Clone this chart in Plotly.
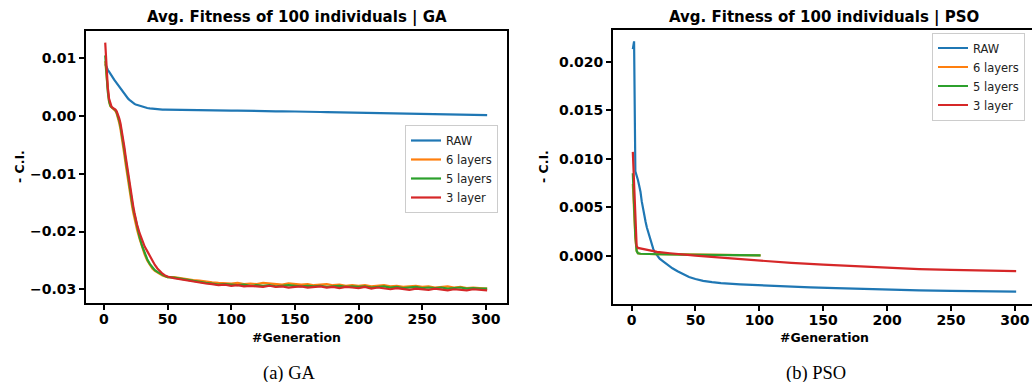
import plotly.graph_objects as go

# ---------------- data: GA panel ----------------
x_ga = list(range(1, 27)) + list(range(28, 51, 2)) + list(range(55, 301, 5)) + [301]

ga_raw = [0.0090, 0.0084, 0.0080, 0.0077, 0.0073, 0.0070, 0.0066, 0.0063, 0.0060, 0.0057,
          0.0053, 0.0050, 0.0046, 0.0043, 0.0040, 0.0037, 0.0034, 0.0032, 0.0030, 0.0028,
          0.0026, 0.0024, 0.00225, 0.0021, 0.00198, 0.0019,
          0.00172, 0.00158, 0.00147, 0.00138, 0.00131, 0.00125, 0.0012, 0.00116, 0.00113, 0.00111, 0.0011, 0.00109,
          0.00108, 0.00104, 0.00106, 0.00100, 0.00102, 0.00098, 0.00100, 0.00095, 0.00097, 0.00093,
          0.00094, 0.00090, 0.00088, 0.00090, 0.00085, 0.00084, 0.00080, 0.00082, 0.00078, 0.00076,
          0.00077, 0.00072, 0.00073, 0.00069, 0.00068, 0.00066, 0.00064, 0.00062, 0.00060, 0.00058,
          0.00059, 0.00055, 0.00053, 0.00050, 0.00048, 0.00046, 0.00044, 0.00041, 0.00040, 0.00036,
          0.00035, 0.00032, 0.00030, 0.00028, 0.00026, 0.00024, 0.00021, 0.00020, 0.00018, 0.00017,
          0.00017]

ga_6 = [0.0095, 0.0066, 0.0041, 0.0025, 0.0017, 0.0014, 0.0013, 0.0011, 0.0009, 0.0004,
        -0.0003, -0.0012, -0.0023, -0.0036, -0.0051, -0.0067, -0.0083, -0.0099, -0.0114, -0.0129,
        -0.0142, -0.0155, -0.0167, -0.0178, -0.0188, -0.0197,
        -0.0213, -0.0228, -0.0240, -0.0250, -0.0258, -0.0264, -0.0268, -0.0271, -0.0274, -0.0276, -0.0278, -0.0279,
        -0.0279, -0.0281, -0.0283, -0.0284, -0.0285, -0.0287, -0.0288, -0.0289, -0.0290, -0.0290,
        -0.0289, -0.0291, -0.0290, -0.0291, -0.0289, -0.0290, -0.0291, -0.0292, -0.0290, -0.0291,
        -0.0292, -0.0291, -0.0293, -0.0292, -0.0291, -0.0293, -0.0292, -0.0294, -0.0293, -0.0294,
        -0.0293, -0.0295, -0.0294, -0.0293, -0.0295, -0.0294, -0.0296, -0.0295, -0.0294, -0.0296,
        -0.0295, -0.0297, -0.0296, -0.0295, -0.0297, -0.0296, -0.0298, -0.0297, -0.0298, -0.0299,
        -0.0299]

ga_5 = [0.0105, 0.0070, 0.0042, 0.0026, 0.0018, 0.0015, 0.0013, 0.0012, 0.0010, 0.0006,
        0.0000, -0.0008, -0.0018, -0.0030, -0.0044, -0.0059, -0.0075, -0.0091, -0.0106, -0.0121,
        -0.0135, -0.0148, -0.0161, -0.0172, -0.0183, -0.0193,
        -0.0210, -0.0225, -0.0238, -0.0248, -0.0256, -0.0262, -0.0267, -0.0270, -0.0273, -0.0275, -0.0277, -0.0279,
        -0.0280, -0.0282, -0.0284, -0.0286, -0.0287, -0.0289, -0.0290, -0.0292, -0.0291, -0.0292,
        -0.0293, -0.0292, -0.0294, -0.0293, -0.0294, -0.0293, -0.0295, -0.0294, -0.0293, -0.0294,
        -0.0295, -0.0294, -0.0295, -0.0294, -0.0296, -0.0295, -0.0294, -0.0296, -0.0295, -0.0296,
        -0.0295, -0.0297, -0.0296, -0.0295, -0.0297, -0.0296, -0.0298, -0.0297, -0.0296, -0.0298,
        -0.0297, -0.0298, -0.0297, -0.0299, -0.0298, -0.0297, -0.0299, -0.0298, -0.0299, -0.0299,
        -0.0299]

ga_3 = [0.0127, 0.0085, 0.0050, 0.0030, 0.0020, 0.0016, 0.0014, 0.0013, 0.0011, 0.0008,
        0.0003, -0.0004, -0.0013, -0.0025, -0.0038, -0.0053, -0.0069, -0.0085, -0.0101, -0.0116,
        -0.0130, -0.0143, -0.0156, -0.0168, -0.0179, -0.0188,
        -0.0203, -0.0216, -0.0226, -0.0234, -0.0242, -0.0251, -0.0258, -0.0264, -0.0269, -0.0273, -0.0276, -0.0278,
        -0.0281, -0.0283, -0.0285, -0.0287, -0.0288, -0.0290, -0.0291, -0.0293, -0.0292, -0.0294,
        -0.0293, -0.0295, -0.0294, -0.0295, -0.0296, -0.0294, -0.0296, -0.0295, -0.0297, -0.0296,
        -0.0295, -0.0297, -0.0296, -0.0295, -0.0297, -0.0296, -0.0298, -0.0296, -0.0297, -0.0298,
        -0.0296, -0.0299, -0.0297, -0.0298, -0.0300, -0.0298, -0.0299, -0.0301, -0.0299, -0.0300,
        -0.0301, -0.0299, -0.0300, -0.0302, -0.0300, -0.0301, -0.0302, -0.0300, -0.0301, -0.0302,
        -0.0302]

# ---------------- data: PSO panel ----------------
x_pso_raw = [1, 2, 3, 4, 5, 6, 7, 8, 9, 10, 11, 12, 13, 14, 15, 16, 17, 18, 19, 20,
             22, 25, 28, 32, 36, 40, 45, 50, 56, 63, 70, 85, 100, 120, 140, 160, 180, 200,
             225, 250, 275, 301]
pso_raw = [0.0213, 0.0221, 0.0087, 0.0083, 0.0078, 0.0072, 0.0066, 0.0056, 0.0048, 0.0041,
           0.0035, 0.0029, 0.0024, 0.0019, 0.0014, 0.0010, 0.0007, 0.0004, 0.0002, 0.0000,
           -0.0003, -0.0006, -0.0009, -0.0013, -0.0016, -0.0019, -0.0022, -0.0024, -0.0026, -0.00272,
           -0.00282, -0.00295, -0.00305, -0.00318, -0.00327, -0.00335, -0.00343, -0.00350,
           -0.00357, -0.00362, -0.00366, -0.0037]

x_pso_small = [1, 2, 3, 4, 5, 7, 10, 20, 40, 60, 80, 101]
pso_6 = [0.0074, 0.0045, 0.0018, 0.0005, 0.00025, 0.0002, 0.00018, 0.00016, 0.00013, 0.0001, 0.00007, 0.00004]
pso_5 = [0.0085, 0.0050, 0.0020, 0.0005, 0.00025, 0.0002, 0.00018, 0.00015, 0.00012, 0.0001, 0.00006, 0.00003]

x_pso_3 = [1, 2, 3, 4, 5, 7, 10, 15, 20, 30, 40, 50, 60, 70, 80, 90, 100, 125, 150, 175,
           200, 225, 250, 275, 301]
pso_3 = [0.0107, 0.0075, 0.0035, 0.0010, 0.0008, 0.00075, 0.0007, 0.0005, 0.0004, 0.00025,
         0.0001, 0.0000, -0.0001, -0.0002, -0.0003, -0.0004, -0.00055, -0.00075, -0.00093, -0.0011,
         -0.00127, -0.00138, -0.00147, -0.00154, -0.0016]

names = ["RAW", "6 layers", "5 layers", "3 layer"]
colors = ["#1f77b4", "#ff7f0e", "#2ca02c", "#d62728"]

x_ticks = [0, 50, 100, 150, 200, 250, 300]
ga_yticks = [0.01, 0.0, -0.01, -0.02, -0.03]
ga_ytext = ["0.01", "0.00", "\u22120.01", "\u22120.02", "\u22120.03"]
pso_yticks = [0.0, 0.005, 0.01, 0.015, 0.02]
pso_ytext = ["0.000", "0.005", "0.010", "0.015", "0.020"]

W, H = 1032, 382

fig = go.Figure()
ga_series = [ga_raw, ga_6, ga_5, ga_3]
for nm, c, ys in zip(names, colors, ga_series):
    fig.add_trace(go.Scatter(x=x_ga, y=ys, mode="lines", name=nm,
                             line=dict(color=c, width=2.2), xaxis="x", yaxis="y",
                             legend="legend"))
pso_series = [(x_pso_raw, pso_raw), (x_pso_small, pso_6), (x_pso_small, pso_5), (x_pso_3, pso_3)]
for nm, c, (xs, ys) in zip(names, colors, pso_series):
    fig.add_trace(go.Scatter(x=xs, y=ys, mode="lines", name=nm,
                             line=dict(color=c, width=2.2), xaxis="x2", yaxis="y2",
                             legend="legend2"))

tickfont = dict(family="DejaVu Sans", size=14, color="black", weight="bold")
axis_common = dict(showline=True, linewidth=2, linecolor="black", ticks="outside",
                   ticklen=5, tickwidth=1.5, tickcolor="black", showgrid=False,
                   zeroline=False, tickfont=tickfont)

legend_font = dict(family="DejaVu Sans", size=11.5, color="#222222")

fig.update_layout(
    width=W, height=H, margin=dict(l=0, r=0, t=0, b=0, pad=0),
    paper_bgcolor="white", plot_bgcolor="white",
    xaxis=dict(domain=[86 / W, 507 / W], range=[-14.1, 316.6], anchor="y",
               tickvals=x_ticks, mirror=True, ticklabelstandoff=-3, **axis_common),
    yaxis=dict(domain=[(H - 303) / H, (H - 31) / H], range=[-0.03238, 0.01472], anchor="x",
               tickvals=ga_yticks, ticktext=ga_ytext, mirror=True, **axis_common),
    xaxis2=dict(domain=[613 / W, 1.0], range=[-14.5, 313.4], anchor="y2",
                tickvals=x_ticks, mirror=True, ticklabelstandoff=-3, **axis_common),
    yaxis2=dict(domain=[(H - 304) / H, (H - 29.5) / H], range=[-0.00498, 0.02332], anchor="x2",
                tickvals=pso_yticks, ticktext=pso_ytext, mirror=False, **axis_common),
    legend=dict(x=405 / W, y=(H - 125) / H, xanchor="left", yanchor="top",
                bgcolor="rgba(255,255,255,0.85)", bordercolor="#cccccc", borderwidth=1,
                font=legend_font, tracegroupgap=0),
    legend2=dict(x=932 / W, y=(H - 32.5) / H, xanchor="left", yanchor="top",
                 bgcolor="rgba(255,255,255,0.85)", bordercolor="#cccccc", borderwidth=1,
                 font=legend_font, tracegroupgap=0),
    showlegend=True,
)

def ann(text, x, y, size, family="DejaVu Sans", angle=0):
    fig.add_annotation(text=text, x=x / W, y=(H - y) / H, xref="paper", yref="paper",
                       showarrow=False, xanchor="center", yanchor="middle", textangle=angle,
                       font=dict(family=family, size=size, color="black"))

ann("<b>Avg. Fitness of 100 individuals | GA</b>", 296.5, 18, 15)
ann("<b>Avg. Fitness of 100 individuals | PSO</b>", 824, 17, 15)
ann("<b>#Generation</b>", 296.5, 337, 12.5)
ann("<b>#Generation</b>", 824, 337, 12.5)
ann("<b>- C.I.</b>", 19, 167, 12.5, angle=-90)
ann("<b>- C.I.</b>", 543, 167, 12.5, angle=-90)
ann("(a) GA", 289, 373, 18.5, family="Liberation Serif")
ann("(b) PSO", 816, 373, 18.5, family="Liberation Serif")

fig.write_html("out.html")
